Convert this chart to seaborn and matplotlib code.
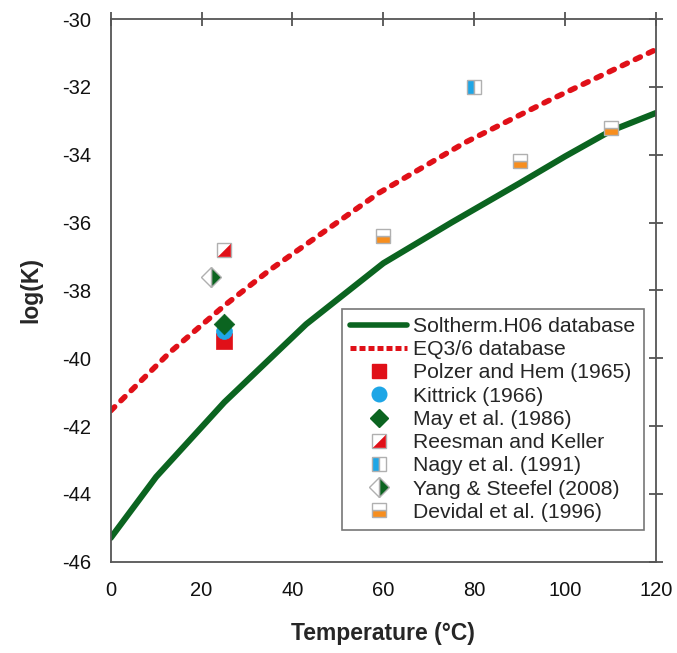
import numpy as np
import pandas as pd
import seaborn as sns
import matplotlib
matplotlib.use("Agg")
import matplotlib.pyplot as plt
from matplotlib.lines import Line2D

sns.set_style("white")
plt.rcParams['font.family'] = ['Liberation Sans', 'DejaVu Sans']
plt.rcParams['axes.unicode_minus'] = False

# Model curves
soltherm_T = [0, 10, 25, 43, 60, 75, 90, 100, 110, 120]
soltherm_logK = [-45.3, -43.5, -41.3, -39.0, -37.2, -36.0, -34.84, -34.05, -33.3, -32.77]
eq36_T = [0, 13, 25, 35, 46, 59, 78, 96, 120]
eq36_logK = [-41.55, -39.83, -38.45, -37.40, -36.36, -35.13, -33.64, -32.43, -30.9]

# Experimental data
polzer_T, polzer_K = [25], [-39.5]
kittrick_T, kittrick_K = [25], [-39.2]
may_T, may_K = [25], [-39.0]
reesman_T, reesman_K = [25], [-36.8]
nagy_T, nagy_K = [80], [-32.0]
yang_T, yang_K = [22], [-37.6]
devidal_T, devidal_K = [60, 90, 110], [-36.4, -34.2, -33.2]

xticks = [0, 20, 40, 60, 80, 100, 120]
yticks = [-46, -44, -42, -40, -38, -36, -34, -32, -30]

GREEN = '#0b6420'
RED = '#e01018'
BLUE = '#1ea6e6'
ORANGE = '#f78e1e'
EDGE = '#b0b0b0'

fig = plt.figure(figsize=(6.77, 6.53), dpi=100)
ax = fig.add_axes([0.1635, 0.1398, 0.8055, 0.8311])

sns.lineplot(x=soltherm_T, y=soltherm_logK, ax=ax, color=GREEN, linewidth=4.4,
             label='Soltherm.H06 database')
sns.lineplot(x=eq36_T, y=eq36_logK, ax=ax, color=RED, linewidth=4.0,
             label='EQ3/6 database')
green_line, red_line = ax.lines[0], ax.lines[1]
green_line.set_solid_capstyle('round')
green_line.set_solid_joinstyle('round')
red_line.set_linewidth(4.0)
red_line.set_linestyle((0, (1.0, 1.6)))
red_line.set_dash_capstyle('round')
red_line.set_dash_joinstyle('round')

ms = 10.5
sns.scatterplot(x=polzer_T, y=polzer_K, ax=ax, marker='s', s=130, color=RED,
                edgecolor=RED, linewidth=0.5, label='Polzer and Hem (1965)', zorder=3)
sns.scatterplot(x=kittrick_T, y=kittrick_K, ax=ax, marker='o', s=130, color=BLUE,
                edgecolor=BLUE, linewidth=0.5, label='Kittrick (1966)', zorder=4)
sns.scatterplot(x=may_T, y=may_K, ax=ax, marker='D', s=110, color=GREEN,
                edgecolor=GREEN, linewidth=0.5, label='May et al. (1986)', zorder=5)

# Reesman: open square with lower-right triangle filled
tri = [(1, -1), (1, 1), (-1, -1), (1, -1)]
ax.plot(reesman_T, reesman_K, marker='s', ms=ms, mfc='white', mec=EDGE, mew=1.0,
        linestyle='', zorder=3)
ax.plot(reesman_T, reesman_K, marker=tri, ms=ms * 0.85, mfc=RED, mec=RED, mew=0.3,
        linestyle='', zorder=4)
ax.plot(nagy_T, nagy_K, marker='s', ms=ms, fillstyle='left', mfc=BLUE,
        mfcalt='white', mec=EDGE, mew=1.0, linestyle='', zorder=3)
ax.plot(yang_T, yang_K, marker='D', ms=ms * 0.95, fillstyle='right', mfc=GREEN,
        mfcalt='white', mec=EDGE, mew=1.0, linestyle='', zorder=3)
ax.plot(devidal_T, devidal_K, marker='s', ms=ms, fillstyle='bottom', mfc=ORANGE,
        mfcalt='white', mec=EDGE, mew=1.0, linestyle='', zorder=3)

ax.set_xlim(0, 120)
ax.set_ylim(-46, -30)
ax.set_xticks(xticks)
ax.set_yticks(yticks)
ax.tick_params(axis='both', which='both', direction='inout', length=10, width=1.2,
               color='#444444', labelsize=14.5, top=True, right=True,
               labeltop=False, labelright=False, pad=9, labelcolor='#111111')
for sp in ax.spines.values():
    sp.set_visible(True)
    sp.set_color('#555555')
    sp.set_linewidth(1.3)

ax.set_xlabel('Temperature (°C)', fontsize=16.5, fontweight='bold', labelpad=16)
ax.set_ylabel('log(K)', fontsize=16.5, fontweight='bold', labelpad=14)

# Legend
h_sol = Line2D([], [], color=GREEN, lw=4.0)
h_eq = Line2D([], [], color=RED, lw=3.6, linestyle=(0, (1.2, 0.6)))
h_pol = Line2D([], [], marker='s', ms=ms, color=RED, linestyle='')
h_kit = Line2D([], [], marker='o', ms=ms, color=BLUE, linestyle='')
h_may = Line2D([], [], marker='D', ms=ms * 0.9, color=GREEN, linestyle='')
h_ree_sq = Line2D([], [], marker='s', ms=ms, mfc='white', mec=EDGE, mew=1.0, linestyle='')
h_ree_tri = Line2D([], [], marker=tri, ms=ms * 0.85, mfc=RED, mec=RED, mew=0.3, linestyle='')
h_nag = Line2D([], [], marker='s', ms=ms, fillstyle='left', mfc=BLUE, mfcalt='white',
               mec=EDGE, mew=1.0, linestyle='')
h_yan = Line2D([], [], marker='D', ms=ms * 0.95, fillstyle='right', mfc=GREEN,
               mfcalt='white', mec=EDGE, mew=1.0, linestyle='')
h_dev = Line2D([], [], marker='s', ms=ms, fillstyle='bottom', mfc=ORANGE, mfcalt='white',
               mec=EDGE, mew=1.0, linestyle='')
handles = [h_sol, h_eq, h_pol, h_kit, h_may, (h_ree_sq, h_ree_tri), h_nag, h_yan, h_dev]
labels = ['Soltherm.H06 database', 'EQ3/6 database', 'Polzer and Hem (1965)',
          'Kittrick (1966)', 'May et al. (1986)', 'Reesman and Keller',
          'Nagy et al. (1991)', 'Yang & Steefel (2008)', 'Devidal et al. (1996)']
leg = ax.legend(handles, labels, loc='lower right', bbox_to_anchor=(0.978, 0.058),
                fontsize=15.2, frameon=True, fancybox=False, edgecolor='#555555',
                handlelength=2.7, handletextpad=0.3, labelspacing=0.2,
                borderpad=0.4, borderaxespad=0)
leg.get_frame().set_linewidth(1.2)

fig.savefig('out.png', dpi=100)
